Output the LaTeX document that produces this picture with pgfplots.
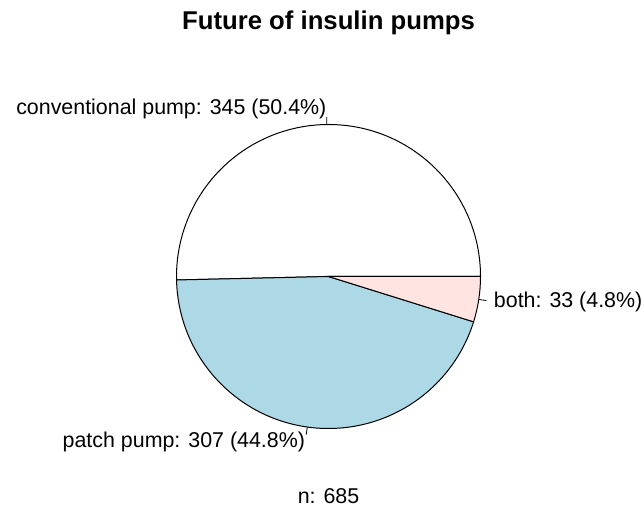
\documentclass[border=0pt]{standalone}
\usepackage{pgfplots}
\pgfplotsset{compat=1.18}
\usepackage{fontspec}
\setmainfont{Liberation Sans}
\definecolor{rlightblue}{RGB}{173,216,230}
\definecolor{rmistyrose}{RGB}{255,228,225}
\begin{document}
\begin{tikzpicture}
\begin{axis}[
  scale only axis, width=644pt, height=508pt,
  xmin=0, xmax=644, ymin=0, ymax=508,
  hide axis, clip=false,
]
% data
\def\vA{345}\def\vB{307}\def\vC{33}
\pgfmathsetmacro{\tot}{\vA+\vB+\vC}
\pgfmathsetmacro{\aA}{\vA/\tot*360}
\pgfmathsetmacro{\aB}{\aA+\vB/\tot*360}
\pgfmathsetmacro{\mA}{\aA/2}
\pgfmathsetmacro{\mB}{(\aA+\aB)/2}
\pgfmathsetmacro{\mC}{(\aB+360)/2}
\def\R{152pt}
\def\cx{328.5}\def\cy{231.5}
\path (axis cs:0,0) rectangle (axis cs:644,508);
\filldraw[fill=white, draw=black, line width=1pt] (axis cs:\cx,\cy) -- ++(0:\R) arc[start angle=0, end angle=\aA, radius=\R] -- cycle;
\filldraw[fill=rlightblue, draw=black, line width=1pt] (axis cs:\cx,\cy) -- ++(\aA:\R) arc[start angle=\aA, end angle=\aB, radius=\R] -- cycle;
\filldraw[fill=rmistyrose, draw=black, line width=1pt] (axis cs:\cx,\cy) -- ++(\aB:\R) arc[start angle=\aB, end angle=360, radius=\R] -- cycle;
% ticks
\draw[line width=0.8pt] (axis cs:\cx,\cy) ++(\mA:152pt) -- ++(\mA:7.6pt);
\draw[line width=0.8pt] (axis cs:\cx,\cy) ++(\mB:152pt) -- ++(\mB:7.6pt);
\draw[line width=0.8pt] (axis cs:\cx,\cy) ++(\mC:152pt) -- ++(\mC:7.6pt);
\path (axis cs:\cx,\cy) ++(\mA:167.2pt) node[anchor=east, inner sep=0pt] {\fontsize{21.4}{25}\selectfont conventional pump: 345 (50.4\%)};
\path (axis cs:\cx,\cy) ++(\mB:167.2pt) node[anchor=east, inner sep=0pt] {\fontsize{21.4}{25}\selectfont patch pump: 307 (44.8\%)};
\path (axis cs:\cx,\cy) ++(\mC:167.2pt) node[anchor=west, inner sep=0pt] {\fontsize{21.4}{25}\selectfont both: 33 (4.8\%)};
\node[inner sep=0pt, anchor=base] at (axis cs:328.5,478) {\fontsize{25.7}{30}\selectfont\bfseries Future of insulin pumps};
\node[inner sep=0pt, anchor=base] at (axis cs:328.5,5) {\fontsize{21.4}{25}\selectfont n: 685};
\end{axis}
\end{tikzpicture}
\end{document}
